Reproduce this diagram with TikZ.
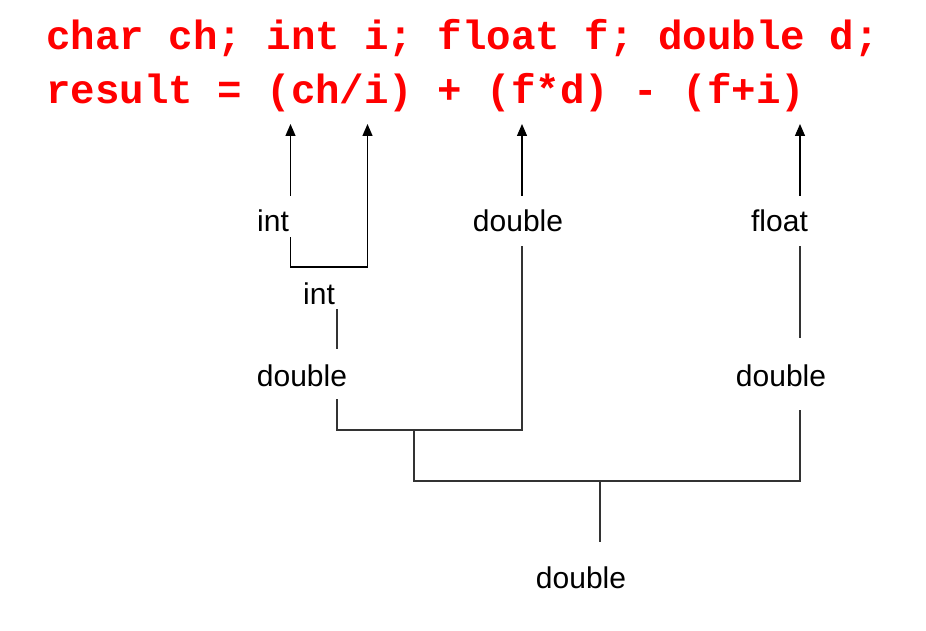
\documentclass[tikz,border=0pt]{standalone}
\usepackage{fontspec}
\setmainfont{Liberation Sans}
\newfontfamily\codefont{Liberation Mono}
\usetikzlibrary{arrows.meta}
\begin{document}
\begin{tikzpicture}[x=1pt,y=-1pt,
  code/.style={text=red, font=\frenchspacing\codefont\bfseries\fontsize{40.8}{48}\selectfont, anchor=base west, inner sep=0pt},
  lbl/.style={font=\fontsize{30}{36}\selectfont, anchor=base, inner sep=0pt},
  conn/.style={line width=1.3pt, draw=black!80},
  arr/.style={line width=1.3pt, draw=black, -{Triangle[width=10pt,length=12pt]}}]
\useasboundingbox (0,0) rectangle (926,631);

% code lines
\node[code] (l1) at (46,50) {char ch; int i; float f; double d;};
\node[code] (l2) at (46,104) {result = (ch/i) + (f*d) - (f+i)};

% labels
\node[lbl] (intA) at (273,232) {int};
\node[lbl] (dblA) at (518,232) {double};
\node[lbl] (fltA) at (779.5,232) {float};
\node[lbl] (intB) at (319,304) {int};
\node[lbl] (dblL) at (302,386) {double};
\node[lbl] (dblR) at (781,386) {double};
\node[lbl] (dblB) at (581,588) {double};

% coordinates
\coordinate (tipCh) at (290.5,124);
\coordinate (tipI) at (367.5,124);
\coordinate (tipF) at (522,124);
\coordinate (tipFi) at (800,124);
\coordinate (intAtop) at (290.5,196);
\coordinate (intAbot) at (290.5,237);
\coordinate (brkL) at (290.5,267);
\coordinate (brkR) at (367.5,267);
\coordinate (intBbot) at (337,309);
\coordinate (dblLtop) at (337,349);
\coordinate (dblLbot) at (337,399);
\coordinate (j1L) at (337,430);
\coordinate (j1R) at (522,430);
\coordinate (dblAbot) at (522,246);
\coordinate (dblAtop) at (522,196);
\coordinate (fltAtop) at (800,196);
\coordinate (fltAbot) at (800,246);
\coordinate (dblRtop) at (800,338);
\coordinate (dblRbot) at (800,410);
\coordinate (j2R) at (800,481);
\coordinate (j2L) at (414,481);
\coordinate (j1M) at (414,430);
\coordinate (j2M) at (600,481);
\coordinate (dblBtop) at (600,542);

% connectors
\draw[arr] (intAtop) -- (tipCh);
\draw[arr] (intAbot) -- (brkL) -- (brkR) -- (tipI);
\draw[conn] (intBbot) -- (dblLtop);
\draw[conn] (dblLbot) -- (j1L) -- (j1R) -- (dblAbot);
\draw[arr] (dblAtop) -- (tipF);
\draw[arr] (fltAtop) -- (tipFi);
\draw[conn] (fltAbot) -- (dblRtop);
\draw[conn] (dblRbot) -- (j2R) -- (j2L) -- (j1M);
\draw[conn] (j2M) -- (dblBtop);
\end{tikzpicture}
\end{document}
